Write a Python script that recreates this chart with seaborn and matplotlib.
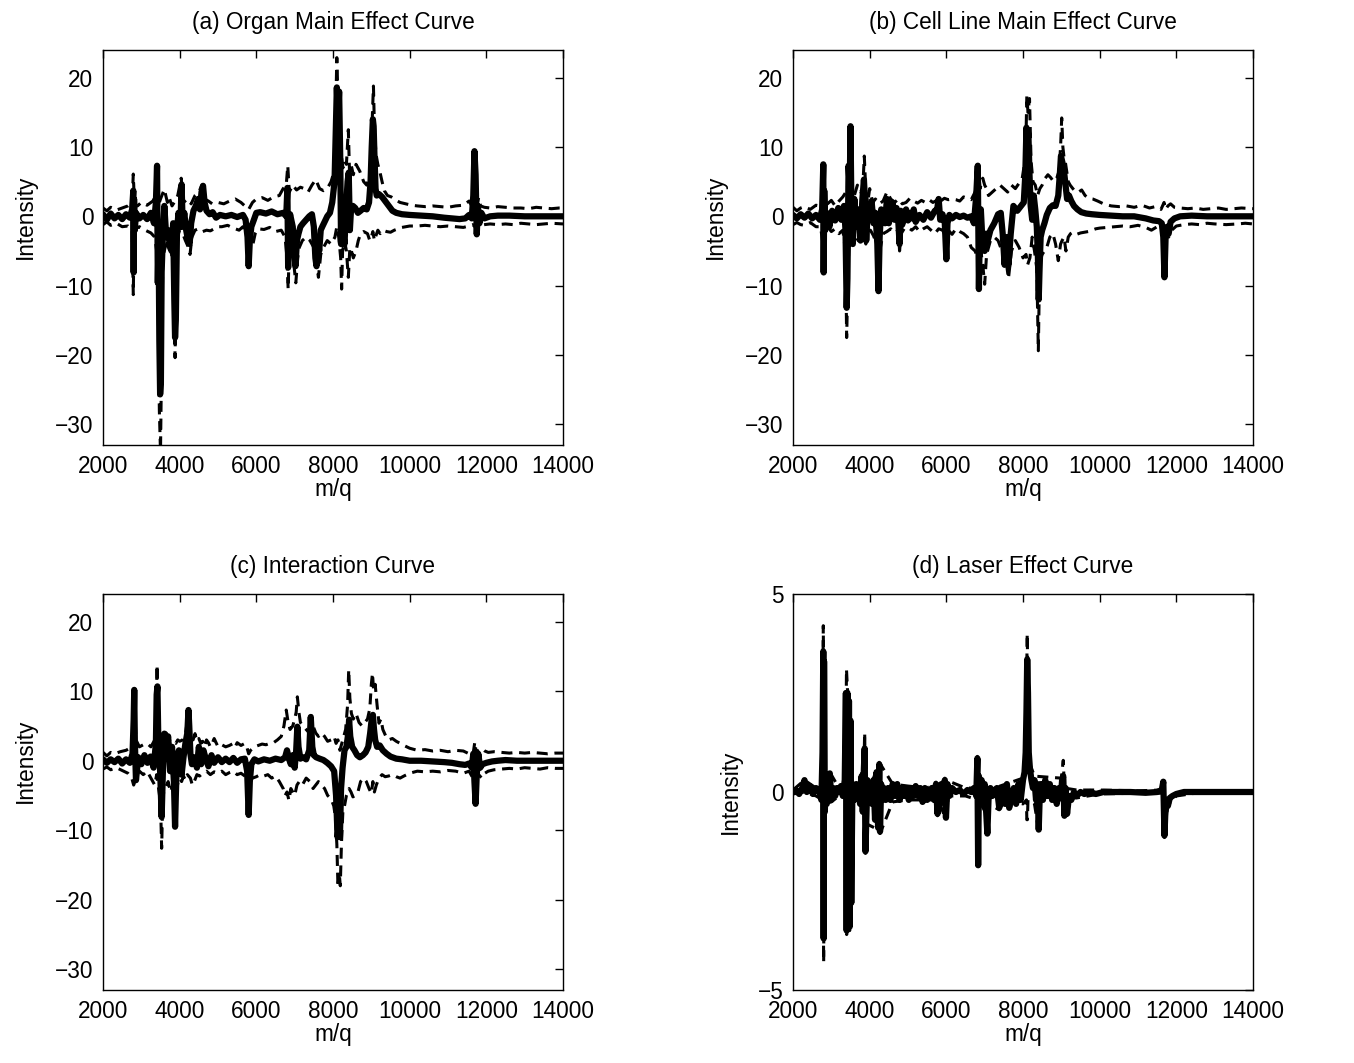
import matplotlib
matplotlib.use("Agg")
import matplotlib.pyplot as plt
import seaborn as sns

# ---------------- (a) Organ main effect ----------------
A_MQ = [2000, 2100, 2200, 2300, 2400, 2500, 2600, 2700, 2760, 2790,
        2800, 2810, 2830, 2860, 2950, 3050, 3150, 3250, 3330, 3380,
        3410, 3430, 3450, 3470, 3490, 3510, 3530, 3560, 3600, 3650,
        3700, 3750, 3790, 3830, 3860, 3880, 3900, 3930, 3970, 4020,
        4050, 4080, 4120, 4170, 4220, 4260, 4300, 4360, 4420, 4480,
        4530, 4570, 4610, 4650, 4700, 4780, 4860, 4950, 5050, 5200,
        5350, 5500, 5650, 5720, 5770, 5800, 5830, 5870, 5930, 6000,
        6100, 6250, 6400, 6550, 6700, 6780, 6810, 6830, 6850, 6880,
        6950, 6990, 7020, 7060, 7100, 7150, 7220, 7300, 7380, 7450,
        7500, 7540, 7570, 7600, 7640, 7680, 7720, 7780, 7850, 7920,
        7980, 8040, 8070, 8100, 8130, 8160, 8190, 8210, 8230, 8260,
        8300, 8340, 8380, 8410, 8440, 8470, 8520, 8580, 8650, 8720,
        8800, 8880, 8940, 8980, 9010, 9040, 9060, 9080, 9110, 9140,
        9200, 9280, 9360, 9450, 9550, 9650, 9800, 10000, 10300, 10600,
        10900, 11100, 11300, 11450, 11550, 11620, 11660, 11690, 11720, 11750,
        11780, 11820, 11870, 11950, 12100, 12300, 12600, 13000, 13500, 14000]
A_MEAN = [0.3, -0.5, 0.4, -0.3, 0.2, -0.4, 0.3, -0.2, 1.0, 3.7,
          -8.1, 2.5, -2.0, 0.5, -0.3, 0.2, -0.4, 0.5, -1.0, 2.0,
          7.3, -9.6, -3, -18, -25.7, -24, -8, -3, 1.5, -3,
          -2, -4.5, -5, -1, -12, -17.5, -15, -2, 0.5, -1.5,
          4.6, -1.5, 0.5, -2, -3.5, -4, -1, 0.8, 1.5, 2.5,
          1, 3.5, 4.4, 2, 0.8, 0.3, 0.6, -0.2, 0.2, 0,
          0.2, -0.1, 0.2, -0.5, -3, -7.2, -3.5, -1.5, -0.6, 0.5,
          0.6, 0.4, 0.7, 0.3, 0.5, 0, 4.1, -7.4, -2, 0.3,
          -1.5, -5, -7.2, -3.5, -2.5, -1.5, -1.0, -0.5, 0, 0.3,
          -1.5, -6, -7.2, -3, -5, -2, -1.5, -0.8, 0, 0.5,
          2, 5, 12, 18.6, 14, 18, 8, -4, 2, -2,
          -4, 1, 5, 6.3, -2, 1, 1.5, 1.2, 0.5, 0.8,
          1.2, 1.0, 2.0, 5, 10, 14, 13, 9, 4, 3,
          3.2, 2.8, 2.2, 1.5, 0.8, 0.5, 0.3, 0.2, 0.1, 0.0,
          -0.2, -0.3, -0.4, -0.3, 0.2, -0.3, 3, 9.4, 6, -2.6,
          1.5, -1.0, 0.5, -0.3, 0.0, 0.1, 0.1, 0.0, 0.0, 0.0]
A_UP_MQ = [2000, 2100, 2200, 2350, 2500, 2650, 2760, 2790, 2820, 2900,
           3000, 3150, 3300, 3380, 3410, 3440, 3500, 3600, 3680, 3720,
           3800, 3880, 3950, 4040, 4100, 4200, 4300, 4400, 4500, 4580,
           4650, 4750, 4850, 5000, 5150, 5300, 5450, 5600, 5700, 5800,
           5900, 6000, 6150, 6300, 6450, 6600, 6700, 6780, 6820, 6860,
           6950, 7050, 7150, 7250, 7350, 7450, 7550, 7650, 7750, 7850,
           7950, 8030, 8070, 8100, 8130, 8170, 8210, 8260, 8300, 8350,
           8400, 8430, 8470, 8530, 8600, 8700, 8800, 8880, 8960, 9000,
           9030, 9055, 9080, 9120, 9170, 9220, 9280, 9340, 9420, 9520,
           9620, 9750, 9900, 10050, 10200, 10400, 10600, 10800, 11000, 11200,
           11400, 11550, 11650, 11700, 11750, 11800, 11850, 11950, 12100, 12300,
           12500, 12700, 12900, 13100, 13300, 13500, 13700, 13900, 14000]
A_UP = [1.2, 0.8, 1.3, 0.9, 1.2, 1.5, 2.0, 6.1, 1.8, 1.5,
        2.0, 1.6, 2.2, 3.0, 7.3, 1.5, 2.5, 3.9, 2.0, 2.8,
        1.5, 2.2, 3.0, 5.5, 2.0, 2.5, 1.8, 3.0, 3.5, 4.5,
        2.5, 2.2, 1.8, 2.0, 1.8, 2.2, 2.5, 2.0, 1.5, 1.0,
        2.0, 2.5, 2.7, 2.3, 2.8, 3.0, 4.0, 4.5, 7.3, 3.5,
        4.5, 3.8, 4.2, 4.0, 3.5, 4.5, 5.3, 4.0, 3.7, 4.0,
        5.0, 6.5, 15, 22.9, 17, 14, 9, 7, 8, 7.5,
        12.5, 6.5, 7.5, 6.0, 7.5, 6.5, 5.0, 4.5, 6.0, 10,
        15, 18.8, 13, 9, 7.5, 6.5, 5.0, 3.7, 3.0, 2.8,
        2.4, 2.0, 1.8, 1.6, 1.5, 1.4, 1.5, 1.4, 1.3, 1.5,
        1.6, 2.2, 1.2, 2.0, 1.5, 2.7, 1.5, 1.3, 1.2, 1.4,
        1.3, 1.2, 1.2, 1.1, 1.3, 1.2, 1.1, 1.2, 1.2]
A_LO_MQ = [2000, 2100, 2200, 2350, 2500, 2650, 2760, 2790, 2810, 2850,
           2950, 3100, 3250, 3350, 3400, 3440, 3470, 3500, 3530, 3560,
           3620, 3700, 3780, 3840, 3880, 3900, 3940, 4000, 4080, 4150,
           4230, 4270, 4320, 4400, 4500, 4600, 4700, 4800, 4900, 5000,
           5100, 5250, 5400, 5550, 5650, 5750, 5800, 5850, 5900, 5970,
           6050, 6200, 6350, 6500, 6650, 6750, 6800, 6830, 6860, 6920,
           6980, 7030, 7080, 7120, 7200, 7300, 7400, 7500, 7560, 7620,
           7680, 7750, 7850, 7950, 8050, 8100, 8150, 8200, 8225, 8250,
           8300, 8350, 8400, 8440, 8480, 8530, 8600, 8660, 8720, 8800,
           8900, 8960, 9000, 9040, 9080, 9120, 9170, 9230, 9300, 9400,
           9500, 9600, 9700, 9800, 9900, 10000, 10200, 10400, 10600, 10800,
           11000, 11200, 11400, 11550, 11650, 11700, 11740, 11780, 11850, 11950,
           12100, 12300, 12500, 12700, 12900, 13100, 13300, 13500, 13700, 14000]
A_LO = [-1.2, -0.8, -1.3, -1.0, -1.5, -1.4, -2.0, -11.3, -3.0, -1.8,
        -1.5, -2.0, -2.4, -3.0, -5.0, -12, -28, -34, -20, -6,
        -4.5, -3.5, -5.0, -8, -20.4, -12, -3, -2.0, -2.5, -3.5,
        -4.5, -5.5, -3.0, -2.0, -1.8, -2.2, -2.0, -2.1, -1.8, -1.5,
        -1.5, -1.3, -1.7, -2.0, -1.5, -2.5, -5.0, -3.5, -4.3, -2.5,
        -1.8, -1.9, -1.6, -2.2, -2.0, -3.0, -6, -10.5, -4.5, -5.5,
        -7, -9.6, -6, -4.5, -3.5, -3.0, -3.5, -4.5, -6.5, -8.8,
        -5.5, -4.5, -3.5, -4.0, -3.0, -1.5, -3, -6, -10.5, -5,
        -3.5, -5.0, -8.8, -4.5, -5.0, -6.0, -5.0, -3.5, -2.5, -2.2,
        -2.5, -3.5, -3.0, -2.2, -3.5, -2.8, -2.0, -2.5, -2.0, -2.2,
        -2.3, -2.0, -1.8, -1.6, -1.5, -1.4, -1.4, -1.3, -1.4, -1.5,
        -1.4, -1.5, -1.6, -1.4, -1.2, -1.5, -2.0, -1.5, -1.3, -1.2,
        -1.1, -1.2, -1.1, -1.2, -1.0, -1.1, -1.2, -1.1, -1.0, -1.1]

# ---------------- (b) Cell line main effect ----------------
B_MQ = [2000, 2100, 2200, 2300, 2400, 2500, 2600, 2700, 2760, 2790,
        2800, 2815, 2840, 2880, 2950, 3020, 3100, 3180, 3260, 3330,
        3370, 3400, 3420, 3450, 3480, 3500, 3520, 3560, 3600, 3650,
        3700, 3760, 3810, 3850, 3880, 3910, 3950, 4000, 4050, 4100,
        4150, 4200, 4230, 4260, 4300, 4350, 4400, 4450, 4500, 4550,
        4600, 4650, 4700, 4750, 4780, 4810, 4850, 4900, 4950, 5000,
        5050, 5100, 5150, 5200, 5300, 5400, 5500, 5600, 5700, 5760,
        5800, 5840, 5900, 5960, 6000, 6030, 6080, 6150, 6250, 6350,
        6450, 6550, 6650, 6720, 6780, 6820, 6850, 6870, 6900, 6950,
        7000, 7040, 7080, 7150, 7250, 7350, 7420, 7470, 7520, 7570,
        7620, 7680, 7750, 7850, 7950, 8020, 8060, 8090, 8110, 8140,
        8170, 8200, 8240, 8280, 8320, 8360, 8390, 8410, 8430, 8460,
        8500, 8560, 8620, 8700, 8780, 8850, 8920, 8960, 8990, 9020,
        9060, 9100, 9150, 9200, 9260, 9330, 9420, 9520, 9650, 9800,
        10000, 10300, 10600, 10900, 11200, 11400, 11550, 11620, 11660, 11690,
        11720, 11760, 11800, 11850, 11950, 12100, 12400, 12800, 13400, 14000]
B_MEAN = [0.2, -0.3, 0.3, -0.2, 0.4, -0.3, 0.2, -0.5, 1.0, 7.5,
          -8.1, 3.7, -2.0, 0.5, -1.5, 0.8, -0.6, 1.2, -0.5, 1.5,
          -2, -13.2, -9, 7.3, 4, 13, 3, -4, 2.5, -1.5,
          1.0, -3.5, 2.5, 5.3, 2.0, -3.5, 0.8, 1.5, 2.2, -1.0,
          0.5, -4.0, -10.8, -3.0, 1.0, 0.3, -1.0, 2.5, -1.0, 0.5,
          2.0, -0.5, 1.2, -1.0, -4.0, 0.8, -1.2, 0.3, 1.0, -0.6,
          0.5, -0.3, 1.0, -0.8, 0.2, -0.5, 0.6, -0.2, 0.8, 1.0,
          2.5, -0.5, 0.3, -1.0, -6.2, -1.0, 0.2, -0.3, 0.2, -0.1,
          0.1, -0.2, 0.0, -1.0, 3.0, 7.3, -10.5, -3, 1.0, -4.5,
          -5.0, -2.5, -3.5, -2.0, -1.0, 0.3, 0.5, -2.5, -7.0, -3.0,
          -7.0, -2.5, 1.5, 0.8, 1.5, 2.0, 6, 12.8, 10, 12,
          6, 1.5, -0.5, 3.0, 1.0, -1.5, -6, -12, -8, -3,
          -2.0, -1.0, 0.2, 1.2, 1.6, 1.5, 3.0, 6.0, 8.7, 8.0,
          7.0, 5.0, 2.5, 3.0, 2.2, 1.5, 1.0, 0.6, 0.4, 0.3,
          0.2, 0.1, 0.0, 0.0, -0.3, -0.6, -0.7, -1.0, -3, -8.8,
          -3, -1.5, -2.5, -0.8, -0.3, 0.0, 0.1, 0.0, 0.0, 0.0]
B_UP_MQ = [2000, 2100, 2200, 2300, 2450, 2600, 2700, 2780, 2800, 2830,
           2900, 3000, 3100, 3200, 3300, 3380, 3430, 3470, 3510, 3550,
           3600, 3680, 3760, 3820, 3860, 3900, 3950, 4000, 4080, 4150,
           4250, 4350, 4450, 4550, 4650, 4750, 4850, 4950, 5050, 5150,
           5250, 5350, 5450, 5550, 5650, 5750, 5800, 5850, 5950, 6050,
           6150, 6250, 6350, 6450, 6550, 6650, 6750, 6800, 6830, 6880,
           6950, 7000, 7050, 7100, 7200, 7300, 7400, 7500, 7600, 7700,
           7800, 7900, 7980, 8050, 8080, 8100, 8130, 8170, 8210, 8260,
           8320, 8380, 8440, 8500, 8580, 8650, 8720, 8800, 8880, 8940,
           8980, 9010, 9040, 9070, 9100, 9140, 9180, 9230, 9300, 9380,
           9450, 9530, 9620, 9720, 9820, 9950, 10100, 10300, 10500, 10700,
           10900, 11100, 11300, 11450, 11600, 11680, 11720, 11780, 11850, 11950,
           12100, 12300, 12500, 12700, 12900, 13100, 13300, 13500, 13700, 14000]
B_UP = [1.3, 0.8, 1.2, 1.4, 1.0, 1.6, 1.5, 2.5, 7.0, 2.5,
        1.8, 2.3, 1.5, 2.2, 2.8, 3.5, 4.5, 8.0, 12.5, 4.0,
        3.0, 4.5, 3.5, 4.0, 8.7, 3.5, 2.0, 4.0, 2.0, 2.5,
        1.8, 2.2, 3.5, 2.5, 2.0, 2.5, 1.8, 2.0, 2.6, 2.2,
        1.9, 2.3, 2.0, 2.4, 2.0, 2.3, 3.0, 2.2, 2.6, 2.4,
        2.5, 2.4, 2.2, 2.8, 2.6, 2.4, 3.5, 4.5, 7.5, 4.0,
        5.5, 4.5, 4.0, 3.0, 3.5, 4.0, 4.5, 4.0, 3.5, 4.5,
        4.0, 4.8, 5.5, 8.0, 12, 17.4, 15, 17, 8, 5.0,
        4.5, 3.0, 4.0, 4.5, 5.5, 6.0, 5.6, 5.0, 5.5, 6.5,
        10, 14.2, 10, 8.5, 8.0, 6.5, 5.0, 4.5, 4.0, 3.5,
        3.5, 3.8, 3.0, 2.6, 2.5, 2.2, 1.8, 1.5, 1.4, 1.5,
        1.3, 1.6, 1.2, 1.4, 1.0, 2.0, 1.0, 1.5, 1.8, 1.3,
        1.2, 1.1, 1.2, 1.0, 1.1, 1.2, 1.0, 1.1, 1.2, 1.1]
B_LO_MQ = [2000, 2100, 2200, 2300, 2450, 2600, 2720, 2780, 2800, 2830,
           2900, 3000, 3100, 3200, 3300, 3370, 3400, 3430, 3460, 3500,
           3560, 3620, 3700, 3780, 3850, 3900, 3950, 4020, 4100, 4180,
           4230, 4280, 4350, 4450, 4550, 4650, 4750, 4780, 4820, 4900,
           5000, 5100, 5200, 5300, 5400, 5500, 5600, 5700, 5800, 5900,
           5950, 6000, 6050, 6150, 6250, 6350, 6450, 6550, 6650, 6750,
           6820, 6850, 6900, 6950, 7000, 7050, 7100, 7150, 7250, 7350,
           7450, 7500, 7550, 7620, 7700, 7800, 7900, 8000, 8080, 8120,
           8180, 8240, 8300, 8360, 8400, 8420, 8450, 8500, 8560, 8620,
           8700, 8780, 8850, 8920, 8980, 9020, 9070, 9120, 9180, 9240,
           9300, 9400, 9500, 9600, 9700, 9800, 9900, 10000, 10200, 10400,
           10600, 10800, 11000, 11200, 11350, 11500, 11600, 11700, 11800, 11880,
           12000, 12200, 12400, 12600, 12800, 13000, 13300, 13600, 13800, 14000]
B_LO = [-1.2, -0.9, -1.2, -1.3, -0.9, -1.5, -1.5, -4.0, -7.0, -3.0,
        -1.5, -2.2, -1.8, -2.5, -2.0, -5.0, -17.5, -9, -4.0, -3.5,
        -4.0, -2.5, -3.5, -2.5, -3.0, -4.0, -2.2, -2.0, -2.8, -4.0,
        -11, -4.5, -2.5, -2.2, -1.8, -2.4, -2.0, -5.0, -2.5, -1.8,
        -1.6, -2.0, -1.5, -2.2, -1.8, -1.5, -2.0, -2.5, -1.8, -2.0,
        -2.5, -4.0, -2.0, -2.6, -1.8, -2.2, -2.5, -3.0, -4.5, -5.0,
        -6.0, -9.8, -5.0, -7.0, -9.8, -5.5, -4.5, -3.5, -3.0, -3.5,
        -5.0, -4.5, -6.0, -9.0, -5.0, -3.5, -4.5, -6.0, -5.5, -7.0,
        -6.0, -3.0, -5.0, -7.5, -19.4, -12, -6.4, -5.5, -5.0, -4.5,
        -3.0, -2.5, -4.0, -6.4, -4.0, -3.5, -3.0, -5.0, -3.0, -2.5,
        -2.3, -2.6, -2.4, -2.3, -2.2, -2.0, -1.8, -1.7, -1.6, -1.5,
        -1.4, -1.5, -1.3, -1.6, -2.0, -1.5, -1.8, -2.5, -3.0, -2.0,
        -1.4, -1.2, -1.1, -1.2, -1.0, -1.1, -1.2, -1.1, -1.0, -1.1]

# ---------------- (c) Interaction ----------------
C_MQ = [2000, 2100, 2200, 2300, 2400, 2500, 2600, 2700, 2770, 2800,
        2815, 2830, 2860, 2920, 3000, 3080, 3160, 3240, 3320, 3380,
        3400, 3420, 3440, 3470, 3500, 3530, 3560, 3600, 3650, 3700,
        3750, 3800, 3850, 3880, 3900, 3930, 3980, 4050, 4100, 4150,
        4200, 4230, 4250, 4280, 4320, 4380, 4450, 4500, 4560, 4620,
        4680, 4750, 4830, 4900, 5000, 5100, 5200, 5300, 5400, 5500,
        5600, 5700, 5760, 5800, 5830, 5870, 5950, 6050, 6200, 6350,
        6500, 6650, 6750, 6800, 6850, 6900, 6950, 7000, 7040, 7070,
        7100, 7150, 7220, 7300, 7380, 7420, 7460, 7500, 7560, 7650,
        7750, 7850, 7950, 8030, 8080, 8120, 8150, 8180, 8210, 8250,
        8300, 8350, 8400, 8420, 8450, 8500, 8560, 8630, 8700, 8780,
        8850, 8920, 8970, 9010, 9040, 9070, 9100, 9150, 9220, 9300,
        9400, 9500, 9650, 9800, 10000, 10300, 10600, 10900, 11100, 11300,
        11450, 11550, 11620, 11660, 11690, 11720, 11750, 11790, 11840, 11900,
        12000, 12150, 12300, 12500, 12800, 13100, 13400, 13700, 13850, 14000]
C_MEAN = [0.2, -0.3, 0.2, -0.2, 0.3, -0.4, 0.2, -0.3, 1.0, 5.9,
          10.2, 3.0, -2.8, 0.5, -0.5, 0.8, -0.3, 0.6, -1.0, 2.5,
          9.5, 10.7, 4.0, 1.5, -3.0, -8.1, -2.0, 3.9, 2.5, 3.5,
          -1.5, 2.0, -3.0, -9.5, -5.0, 0.5, 1.5, -2.0, 0.5, 2.5,
          4.0, 7.3, 5.0, 1.0, -0.5, 0.5, -1.0, 2.0, -0.5, 1.5,
          0.3, -0.8, 0.8, -0.3, 0.5, -0.2, 0.3, -0.2, 0.4, -0.3,
          0.2, 0.3, -1.5, -7.8, -3.0, -0.5, 0.2, -0.1, 0.2, 0.0,
          0.3, 0.1, 0.5, 1.5, 0.3, -0.5, 0.8, -1.0, 1.5, 4.9,
          2.0, 0.3, 0.5, 0.2, 1.5, 6.3, 2.0, 0.8, 0.5, 0.3,
          0.1, -0.3, -0.8, -1.5, -5.0, -11, -9.0, -11, -4.0, -1.0,
          1.5, 2.0, 4.0, 5.9, 3.5, 2.0, 1.5, 0.8, 0.5, 0.8,
          1.2, 2.0, 4.0, 6.0, 6.6, 4.5, 3.0, 2.0, 2.2, 1.5,
          1.0, 0.6, 0.3, 0.2, 0.0, 0.0, -0.1, -0.2, -0.3, -0.5,
          -0.6, -0.4, -1.0, 1.0, -3.0, -6.2, -2.0, 1.0, -1.0, -0.5,
          -0.3, -0.1, 0.0, 0.1, 0.0, 0.0, 0.0, 0.0, 0.0, 0.0]
C_UP_MQ = [2000, 2100, 2200, 2300, 2450, 2600, 2700, 2770, 2800, 2820,
           2860, 2950, 3050, 3150, 3250, 3350, 3390, 3410, 3440, 3480,
           3540, 3600, 3650, 3700, 3750, 3800, 3850, 3900, 3950, 4000,
           4080, 4150, 4210, 4240, 4280, 4350, 4400, 4450, 4500, 4550,
           4600, 4650, 4700, 4750, 4800, 4850, 4900, 5000, 5100, 5200,
           5300, 5400, 5450, 5500, 5600, 5700, 5750, 5800, 5850, 5950,
           6050, 6150, 6250, 6350, 6450, 6550, 6650, 6720, 6780, 6830,
           6880, 6950, 7000, 7040, 7070, 7110, 7150, 7220, 7300, 7380,
           7430, 7480, 7550, 7620, 7700, 7780, 7860, 7950, 8030, 8080,
           8130, 8180, 8230, 8280, 8330, 8380, 8410, 8440, 8480, 8530,
           8600, 8680, 8760, 8830, 8900, 8960, 9000, 9030, 9060, 9100,
           9150, 9200, 9250, 9300, 9380, 9450, 9550, 9650, 9750, 9850,
           10000, 10200, 10400, 10600, 10800, 11000, 11200, 11400, 11550, 11650,
           11700, 11740, 11800, 11880, 11960, 12050, 12200, 12400, 12600, 12800,
           13000, 13200, 13400, 13600, 13800, 14000]
C_UP = [1.2, 0.7, 1.2, 1.0, 1.3, 1.5, 1.8, 2.5, 6.0, 9.0,
        3.0, 2.0, 2.3, 2.5, 2.0, 3.0, 7.0, 13.8, 6.0, 4.0,
        4.0, 3.9, 4.0, 3.5, 2.8, 3.0, 2.7, 2.5, 3.0, 2.8,
        3.0, 3.9, 6.0, 7.3, 3.5, 3.0, 3.9, 2.8, 3.2, 2.5,
        2.8, 2.0, 3.0, 2.6, 2.0, 2.5, 3.2, 2.0, 2.3, 2.0,
        2.2, 2.5, 2.0, 2.6, 2.2, 2.5, 2.0, 1.0, 1.5, 2.0,
        2.2, 2.4, 2.3, 2.5, 2.6, 3.0, 3.5, 5.0, 7.3, 5.5,
        4.5, 5.0, 6.0, 7.0, 9.2, 7.0, 5.5, 5.0, 4.5, 4.0,
        6.5, 5.0, 4.0, 3.5, 4.0, 3.5, 2.8, 3.0, 3.5, 2.5,
        3.0, 1.5, 2.5, 3.5, 4.5, 8.0, 13.1, 9.0, 6.8, 6.0,
        6.8, 5.5, 5.0, 5.5, 6.0, 7.5, 11, 12.6, 10, 11,
        8.0, 5.4, 6.0, 4.5, 3.5, 3.0, 3.2, 2.8, 2.5, 2.2,
        1.8, 1.5, 1.6, 1.4, 1.5, 1.3, 1.5, 1.4, 1.0, 0.8,
        2.7, 1.0, 1.5, 1.8, 1.4, 1.2, 1.3, 1.2, 1.1, 1.2,
        1.1, 1.2, 1.1, 1.0, 1.1, 1.1]
C_LO_MQ = [2000, 2100, 2200, 2350, 2500, 2650, 2750, 2800, 2830, 2860,
           2950, 3050, 3150, 3250, 3350, 3400, 3450, 3500, 3530, 3560,
           3620, 3700, 3760, 3820, 3880, 3950, 4000, 4050, 4100, 4150,
           4200, 4280, 4330, 4380, 4450, 4520, 4600, 4700, 4800, 4900,
           5000, 5100, 5200, 5300, 5400, 5500, 5600, 5700, 5760, 5820,
           5900, 6000, 6100, 6200, 6300, 6400, 6500, 6600, 6700, 6750,
           6800, 6850, 6900, 6950, 7000, 7060, 7120, 7200, 7300, 7400,
           7480, 7550, 7620, 7700, 7780, 7860, 7950, 8020, 8060, 8100,
           8130, 8160, 8190, 8220, 8260, 8300, 8350, 8420, 8470, 8520,
           8580, 8650, 8720, 8800, 8870, 8940, 9000, 9040, 9080, 9130,
           9200, 9280, 9360, 9450, 9550, 9650, 9750, 9850, 10000, 10200,
           10400, 10600, 10800, 11000, 11200, 11400, 11550, 11650, 11720, 11800,
           11880, 11960, 12050, 12200, 12400, 12600, 12800, 13000, 13200, 13400,
           13600, 13800, 14000]
C_LO = [-1.2, -0.9, -1.3, -1.0, -1.4, -1.8, -2.5, -3.5, -3.0, -2.2,
        -1.5, -2.0, -1.5, -2.5, -3.5, -2.0, -4.0, -6.0, -12.6, -5.0,
        -4.0, -3.0, -4.5, -3.5, -5.0, -3.3, -2.5, -3.0, -2.2, -2.8,
        -2.0, -2.5, -3.5, -3.0, -2.0, -2.2, -1.8, -1.5, -2.0, -1.6,
        -1.8, -1.5, -2.0, -1.7, -1.5, -2.0, -1.8, -2.2, -2.5, -3.0,
        -2.5, -2.3, -2.0, -2.2, -2.0, -2.5, -2.2, -3.0, -4.0, -5.0,
        -4.5, -5.7, -4.0, -4.5, -5.0, -3.5, -3.0, -3.5, -2.5, -3.0,
        -4.0, -3.5, -3.0, -3.5, -4.0, -5.0, -5.5, -6.5, -8.0, -12,
        -18.2, -16, -18, -12, -7.0, -6.5, -5.0, -4.0, -4.5, -5.2,
        -5.0, -4.5, -3.0, -2.5, -3.0, -4.0, -4.7, -3.0, -4.5, -3.5,
        -2.5, -2.0, -2.3, -2.2, -2.0, -2.3, -2.5, -2.2, -1.8, -1.5,
        -1.6, -1.5, -1.6, -1.4, -1.5, -1.8, -1.5, -2.5, -3.0, -2.0,
        -2.5, -1.8, -1.5, -1.3, -1.2, -1.1, -1.2, -1.0, -1.1, -1.2,
        -1.0, -1.1, -1.1]

# ---------------- (d) Laser effect ----------------
D_MQ = [2000, 2080, 2160, 2240, 2300, 2360, 2440, 2520, 2600, 2680,
        2740, 2770, 2790, 2800, 2810, 2830, 2850, 2880, 2920, 2960,
        3000, 3050, 3100, 3150, 3200, 3250, 3300, 3350, 3380, 3400,
        3420, 3440, 3460, 3480, 3500, 3520, 3550, 3600, 3650, 3700,
        3750, 3790, 3820, 3850, 3870, 3890, 3910, 3940, 3980, 4020,
        4060, 4100, 4140, 4180, 4220, 4250, 4270, 4300, 4330, 4370,
        4420, 4480, 4540, 4600, 4660, 4720, 4780, 4840, 4900, 4960,
        5020, 5080, 5140, 5200, 5260, 5320, 5380, 5440, 5500, 5560,
        5620, 5680, 5730, 5770, 5800, 5830, 5870, 5920, 5960, 5990,
        6030, 6080, 6150, 6250, 6350, 6450, 6550, 6650, 6720, 6780,
        6810, 6830, 6850, 6880, 6920, 6960, 7000, 7040, 7070, 7100,
        7150, 7200, 7260, 7320, 7380, 7430, 7480, 7530, 7580, 7640,
        7700, 7760, 7820, 7880, 7940, 8000, 8040, 8070, 8090, 8110,
        8130, 8150, 8180, 8220, 8260, 8300, 8340, 8380, 8410, 8430,
        8470, 8520, 8580, 8640, 8700, 8760, 8820, 8880, 8940, 8990,
        9020, 9050, 9080, 9110, 9150, 9200, 9260, 9330, 9400, 9500,
        9600, 9750, 9900, 10100, 10400, 10800, 11200, 11500, 11620, 11660,
        11690, 11710, 11740, 11780, 11830, 11900, 12000, 12200, 12500, 13000,
        13500, 14000]
D_MEAN = [0.0, 0.05, -0.05, 0.1, 0.3, 0.0, 0.15, -0.05, 0.1, 0.05,
          -0.2, 1.0, 3.55, -3.7, 3.3, -0.5, 0.2, -0.3, 0.3, 0.47,
          -0.2, 0.1, -0.1, 0.1, 0.0, 0.15, -0.1, 0.3, 2.5, -3.5,
          2.5, -3.2, 2.3, -3.4, 1.8, -2.8, 0.2, -0.2, 0.2, 0.1,
          -0.3, 0.4, -0.5, 0.6, 1.1, -1.5, -0.8, 0.3, -0.2, 0.1,
          -0.3, 0.3, -0.7, 0.5, -0.9, 0.7, -1.0, 0.2, -0.2, 0.1,
          -0.2, 0.1, -0.2, 0.2, -0.1, 0.2, -0.2, 0.1, -0.1, 0.1,
          -0.2, 0.1, -0.1, 0.15, -0.1, 0.1, -0.25, 0.1, -0.2, 0.0,
          0.1, -0.2, 0.2, -0.55, 0.1, -0.3, 0.2, -0.2, 0.3, -0.65,
          0.2, -0.1, 0.1, 0.0, 0.05, -0.05, 0.05, 0.0, 0.1, -0.1,
          0.85, -1.85, 0.4, -0.2, 0.3, -0.3, 0.2, -0.5, -1.05, -0.2,
          0.1, -0.1, 0.05, 0.1, -0.4, -0.2, 0.1, -0.3, 0.2, -0.4,
          -0.1, 0.1, -0.3, 0.2, -0.2, 0.3, 0.5, 1.0, 2.0, 3.35,
          2.5, 1.0, 0.6, 0.3, 0.1, 0.3, -0.2, 0.2, -0.95, -0.3,
          0.2, -0.2, 0.3, -0.1, 0.2, -0.2, 0.1, -0.3, 0.1, -0.1,
          0.3, 0.4, -0.6, 0.1, -0.55, -0.1, -0.2, 0.0, -0.1, 0.0,
          -0.05, 0.0, -0.05, 0.0, 0.0, 0.0, -0.02, 0.0, 0.05, 0.26,
          -1.1, -0.6, -0.2, -0.35, -0.15, -0.1, -0.05, 0.0, 0.0, 0.0,
          0.0, 0.0]
D_UP_MQ = [2000, 2300, 2600, 2760, 2790, 2815, 2960, 3200, 3370, 3395,
           3420, 3460, 3520, 3700, 3850, 3870, 3890, 4100, 4250, 4600,
           5000, 5500, 5730, 5770, 5960, 6000, 6500, 6790, 6810, 6840,
           7040, 7070, 7100, 7400, 8000, 8060, 8090, 8110, 8130, 8150,
           8180, 8300, 9000, 9050, 9080, 9400, 10000, 11000, 11600, 11650,
           11665, 11685, 11720, 11800, 12000, 12500, 14000]
D_UP = [0.05, 0.3, 0.1, 0.0, 4.2, 0.0, 0.5, 0.1, 0.2, 3.1,
        2.6, 2.4, 0.2, 0.15, 0.7, 1.5, 0.0, 0.35, 0.75, 0.2,
        0.15, 0.1, 0.25, -0.45, 0.35, 0.3, 0.1, 0.1, 0.9, 0.1,
        -0.4, -0.95, -0.1, 0.15, 0.35, 0.6, 2.5, 4.0, 2.7, 1.1,
        0.7, 0.4, 0.35, 0.8, 0.1, 0.05, 0.05, 0.03, 0.05, 0.15,
        0.3, -0.9, -0.5, -0.25, -0.02, 0.03, 0.03]
D_LO_MQ = [2000, 2300, 2600, 2770, 2800, 2820, 3000, 3200, 3380, 3400,
           3440, 3480, 3530, 3700, 3880, 3890, 3910, 4220, 4270, 4600,
           5000, 5700, 5770, 5830, 5990, 6050, 6500, 6820, 6830, 6850,
           6900, 7040, 7070, 7100, 7380, 7420, 8000, 8090, 8100, 8115,
           8130, 8300, 8410, 8450, 9000, 9080, 9110, 9150, 9200, 9400,
           10000, 11000, 11600, 11660, 11690, 11720, 11800, 12000, 12500, 14000]
D_LO = [-0.05, 0.0, -0.1, -0.2, -4.3, -0.3, -0.25, -0.1, -0.1, -3.6,
        -3.3, -3.5, -0.1, -0.1, -0.5, -1.55, -0.8, -0.95, -1.05, -0.25,
        -0.2, -0.2, -0.6, -0.3, -0.7, -0.1, -0.1, -0.2, -1.9, -0.2,
        -0.3, -0.55, -1.1, -0.3, -0.45, -0.2, -0.3, -0.2, -0.7, -0.7,
        -0.2, -0.3, -1.0, -0.2, -0.2, -0.65, -0.1, -0.6, -0.15, -0.15,
        -0.05, -0.03, -0.03, 0.15, -1.15, -0.65, -0.3, -0.1, -0.03, -0.03]

TITLES = ["(a) Organ Main Effect Curve", "(b) Cell Line Main Effect Curve",
          "(c) Interaction Curve", "(d) Laser Effect Curve"]
X_TICKS = [2000, 4000, 6000, 8000, 10000, 12000, 14000]
Y_TICKS_ABC = [-30, -20, -10, 0, 10, 20]
Y_TICKS_D = [-5, 0, 5]

sns.set_theme(style="white")
plt.rcParams["font.family"] = ["Liberation Sans", "DejaVu Sans"]

W, H = 1354, 1063
fig = plt.figure(figsize=(W / 100, H / 100), dpi=100)
fig.patch.set_facecolor("white")


def box(left, top, right, bottom):
    return [left / W, 1 - bottom / H, (right - left) / W, (bottom - top) / H]


panels = [
    (box(103, 50, 563, 445), A_MQ, A_MEAN, A_UP_MQ, A_UP, A_LO_MQ, A_LO, (-33, 24), Y_TICKS_ABC, (-0.143, 33 / 57)),
    (box(793, 50, 1253, 445), B_MQ, B_MEAN, B_UP_MQ, B_UP, B_LO_MQ, B_LO, (-33, 24), Y_TICKS_ABC, (-0.143, 33 / 57)),
    (box(103, 594, 563, 990), C_MQ, C_MEAN, C_UP_MQ, C_UP, C_LO_MQ, C_LO, (-33, 24), Y_TICKS_ABC, (-0.143, 33 / 57)),
    (box(793, 594, 1253, 990), D_MQ, D_MEAN, D_UP_MQ, D_UP, D_LO_MQ, D_LO, (-5, 5), Y_TICKS_D, (-0.111, 0.5)),
]

FS = 16.3
dash = (0, (3.6, 2.2))
for i, (pos, mq, mean, umq, up, lmq, lo, ylim, yt, lab) in enumerate(panels):
    ax = fig.add_axes(pos)
    sns.lineplot(x=umq, y=up, ax=ax, color="black", linewidth=2.2, linestyle=dash,
                 estimator=None, sort=False, errorbar=None)
    sns.lineplot(x=lmq, y=lo, ax=ax, color="black", linewidth=2.2, linestyle=dash,
                 estimator=None, sort=False, errorbar=None)
    sns.lineplot(x=mq, y=mean, ax=ax, color="black", linewidth=4.5,
                 estimator=None, sort=False, errorbar=None)
    ax.set_xlim(2000, 14000)
    ax.set_ylim(*ylim)
    ax.set_xticks(X_TICKS)
    ax.set_yticks(yt)
    ax.tick_params(direction="in", top=True, right=True, length=6, width=1,
                   labelsize=FS, colors="black", pad=7)
    for s in ax.spines.values():
        s.set_color("black")
        s.set_linewidth(1.0)
        s.set_visible(True)
    ax.set_title(TITLES[i], fontsize=FS, pad=15, color="black")
    ax.set_xlabel("m/q", fontsize=FS, labelpad=0, color="black")
    ax.set_ylabel("Intensity", fontsize=FS, color="black")
    ax.yaxis.set_label_coords(*lab)
    ax.grid(False)

fig.savefig("out.png", dpi=100, facecolor="white")
